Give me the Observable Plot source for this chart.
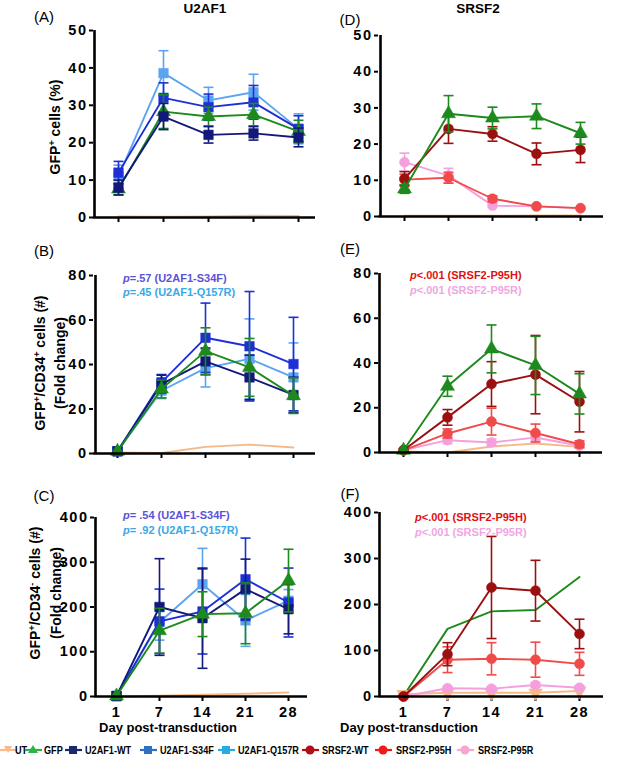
<!DOCTYPE html>
<html><head><meta charset="utf-8">
<script src="https://cdn.jsdelivr.net/npm/d3@7"></script>
<script src="https://cdn.jsdelivr.net/npm/@observablehq/plot@0.6"></script>
<style>
body{margin:0;background:#fff;}
#root{position:relative;width:630px;height:761px;overflow:hidden;font-family:"Liberation Sans",Arial,sans-serif;color:#000;}
.abs{position:absolute;white-space:nowrap;line-height:1;}
.c{transform:translate(-50%,-50%);}
.rot{transform:translate(-50%,-50%) rotate(-90deg);}
.b{font-weight:bold;}
.pl{font-size:15px;}
.ylab{font-size:14px;font-weight:bold;}
.pv{font-size:11px;font-weight:bold;}
.pv i{font-weight:bold;}
.leg{font-size:11px;font-weight:bold;transform:scaleX(0.83);transform-origin:0 50%;}
svg.panel{position:absolute;overflow:visible;}
#root svg.panel text{font-family:"Liberation Sans",Arial,sans-serif;font-weight:bold;font-size:14.5px;letter-spacing:1.5px;fill:#000;}
</style></head><body><div id="root"></div>
<script>
// ---------------- data ----------------
const days = [1, 7, 14, 21, 28];
const seriesNames  = ["UT", "GFP", "U2AF1-WT", "U2AF1-S34F", "U2AF1-Q157R", "SRSF2-WT", "SRSF2-P95H", "SRSF2-P95R"];
const seriesColors = ["#f5b988", "#1c8a1c", "#12197a", "#1f2fd6", "#5ca4f2", "#9a1010", "#f04a4a", "#f5a0de"];
const legendColors = ["#f9b98a", "#2db34a", "#1a2a6c", "#2f70c4", "#29abe2", "#b01015", "#f01a1a", "#f7a6cf"];

// (A) GFP+ cells (%) — U2AF1
const A_UT = [0.3, 0.2, 0.3, 0.5, 0.4];
const A_GFP = [7.6, 28.3, 27.0, 27.5, 23.0],  A_GFP_se = [1.5, 4.5, 2.5, 3.0, 3.0];
const A_WT = [8.0, 27.0, 22.1, 22.5, 21.4],   A_WT_se = [2.0, 3.5, 2.2, 1.8, 2.5];
const A_S34F = [12.0, 32.0, 29.5, 30.8, 23.7], A_S34F_se = [3.0, 4.0, 3.5, 4.5, 3.5];
const A_Q157R = [11.0, 38.6, 31.3, 33.5, 23.7], A_Q157R_se = [3.0, 6.0, 3.5, 4.8, 4.0];

// (D) GFP+ cells (%) — SRSF2
const D_UT = [0.2, 0.2, 0.2, 0.3, 0.3];
const D_GFP = [7.6, 28.4, 27.2, 27.7, 23.0],  D_GFP_se = [1.2, 5.0, 3.0, 3.4, 3.0];
const D_WT = [10.4, 24.2, 22.8, 17.3, 18.4],  D_WT_se = [2.0, 4.0, 2.0, 3.0, 3.5];
const D_P95H = [10.2, 10.7, 4.9, 2.8, 2.3],   D_P95H_se = [1.5, 1.5, 0.8, 0.5, 0.5];
const D_P95R = [15.0, 11.3, 3.0, 2.8, 2.3],   D_P95R_se = [2.5, 2.0, 0.5, 0.5, 0.5];

// (B) GFP+/CD34+ fold change — U2AF1
const B_UT = [0.5, 0.2, 3.0, 4.0, 2.7];
const B_GFP = [1, 29.0, 46.0, 38.7, 26.0],  B_GFP_se = [0.3, 4.0, 10.5, 13.0, 8.0];
const B_WT = [1, 31.2, 41.4, 34.2, 26.3],   B_WT_se = [0.3, 4.0, 6.0, 10.0, 8.0];
const B_S34F = [1, 32.0, 52.0, 48.2, 40.2], B_S34F_se = [0.3, 3.5, 15.6, 24.6, 21.0];
const B_Q157R = [1, 28.2, 38.4, 42.5, 34.2], B_Q157R_se = [0.3, 3.5, 8.5, 18.0, 15.5];

// (E) GFP+/CD34+ fold change — SRSF2
const E_UT = [0.5, 0.0, 2.7, 4.0, 2.5];
const E_GFP = [1, 29.6, 46.3, 38.9, 26.2], E_GFP_se = [0.3, 4.5, 10.7, 13.0, 9.0];
const E_WT = [1, 15.7, 30.6, 34.8, 22.7],  E_WT_se = [0.3, 3.5, 10.0, 17.5, 13.5];
const E_P95H = [1, 8.5, 13.8, 8.7, 3.7],   E_P95H_se = [0.3, 2.0, 6.0, 4.0, 1.5];
const E_P95R = [1, 5.5, 4.5, 6.7, 3.0],    E_P95R_se = [0.3, 1.5, 1.5, 1.5, 1.0];

// (C) GFP+/CD34- fold change — U2AF1
const C_UT = [0, 2, 4, 6, 9];
const C_GFP = [1, 147, 184, 186, 259],  C_GFP_se = [1, 50, 50, 68, 70];
const C_WT = [1, 200, 175, 240, 195],   C_WT_se = [1, 108, 112, 67, 55];
const C_S34F = [1, 168, 190, 262, 210], C_S34F_se = [1, 72, 95, 92, 77];
const C_Q157R = [1, 166, 251, 170, 214], C_Q157R_se = [1, 40, 80, 58, 25];

// (F) GFP+/CD34- fold change — SRSF2
const F_UT = [5, 8, 8, 8, 12];
const F_GFP = [1, 147, 185, 188, 260];
const F_WT = [0, 92, 237, 230, 136],  F_WT_se = [0, 25, 111, 66, 32];
const F_P95H = [0, 80, 82, 80, 71],   F_P95H_se = [0, 28, 35, 38, 25];
const F_P95R = [0, 18, 17, 25, 19],   F_P95R_se = [0, 4, 4, 5, 4];

const yTicksPct = [0, 10, 20, 30, 40, 50];
const yTicks80 = [0, 20, 40, 60, 80];
const yTicks400 = [0, 100, 200, 300, 400];

// ---------------- helpers ----------------
const colorOf = n => seriesColors[seriesNames.indexOf(n)];
const capSymbol = {draw(ctx, size){const w = Math.sqrt(size/Math.PI); ctx.moveTo(-w,0); ctx.lineTo(w,0);}};
const downTri = {draw(ctx, size){const s = Math.sqrt(size/(Math.sqrt(3)*3)); ctx.moveTo(0,2*s); ctx.lineTo(-Math.sqrt(3)*s,-s); ctx.lineTo(Math.sqrt(3)*s,-s); ctx.closePath();}};
function symbolOf(n){
  if (n === "UT") return downTri;
  if (n === "GFP") return "triangle";
  if (n.startsWith("U2AF1")) return "square";
  return "circle";
}
function radiusOf(n){
  if (n === "UT") return 5;
  if (n === "GFP") return 5.2;
  if (n.startsWith("U2AF1")) return 5.4;
  return 5;
}
function seriesMarks(name, mean, se, markers){
  const color = colorOf(name);
  const rows = days.map((d,i)=>({day:d, v:mean[i], lo: se ? Math.max(0, mean[i]-se[i]) : null, hi: se ? mean[i]+se[i] : null}));
  const m = [Plot.line(rows, {x:"day", y:"v", stroke:color, strokeWidth:1.9})];
  if (se) {
    const eb = rows.filter((r,i)=>se[i] > 0.6);
    m.push(Plot.ruleX(eb, {x:"day", y1:"lo", y2:"hi", stroke:color, strokeWidth:1.6}));
    const caps = eb.flatMap(r=>[{day:r.day, y:r.lo},{day:r.day, y:r.hi}]);
    m.push(Plot.dot(caps, {x:"day", y:"y", symbol:capSymbol, r:5, stroke:color, strokeWidth:1.6, fill:"none"}));
  }
  if (markers) m.push(Plot.dot(rows, {x:"day", y:"v", symbol:symbolOf(name), r:radiusOf(name), fill:color, stroke:color, strokeWidth:0.5}));
  return m;
}

const root = document.getElementById("root");
function panel(cfg, yTicks, ymax, series, showX){
  const marginLeft = cfg.axisX - cfg.left;
  const marginRight = cfg.left + cfg.w - cfg.right;
  const marginTop = cfg.yTop - cfg.top;
  const marginBottom = cfg.top + cfg.h - cfg.yZero;
  const insetLeft = cfg.x1 - cfg.axisX, insetRight = cfg.right - cfg.xN;
  const marks = [
    Plot.axisY({ticks:yTicks, tickSize:4, tickPadding:2, label:null, strokeWidth:2, fontWeight:"bold", fontSize:14.5}),
    Plot.axisX({ticks:days, tickSize:5, tickPadding:5, label:null, strokeWidth:2, fontWeight:"bold", fontSize:14.5, tickFormat: showX ? (d=>String(d)) : (()=>"")}),
  ];
  for (const s of series) marks.push(...seriesMarks(s.name, s.mean, s.se, s.markers));
  marks.push(Plot.ruleY([0], {stroke:"black", strokeWidth:2.6}));
  marks.push(Plot.ruleX([days[0]], {y1:0, y2:ymax, dx:-insetLeft, stroke:"black", strokeWidth:2.6}));
  const svg = Plot.plot({
    width: cfg.w, height: cfg.h, marginLeft, marginRight, marginTop, marginBottom,
    x: {type:"point", domain: days, padding:0, insetLeft, insetRight},
    y: {domain:[0, ymax]},
    style: {fontFamily:'"Liberation Sans", Arial, sans-serif', color:"black", background:"transparent", overflow:"visible"},
    marks
  });
  svg.classList.add("panel");
  svg.style.left = cfg.left + "px"; svg.style.top = cfg.top + "px";
  root.appendChild(svg);
}

const cfgA = {left:0, top:0, w:320, h:235, axisX:93, right:315, yTop:30, yZero:217, x1:117, xN:298};
const cfgB = {left:0, top:240, w:320, h:225, axisX:93, right:315, yTop:275, yZero:453, x1:115, xN:294};
const cfgC = {left:0, top:480, w:320, h:235, axisX:94, right:307, yTop:517, yZero:696, x1:115, xN:288};
const cfgD = {left:315, top:0, w:315, h:235, axisX:378, right:603, yTop:35, yZero:216, x1:402, xN:581};
const cfgE = {left:315, top:240, w:315, h:225, axisX:378, right:602, yTop:273, yZero:452, x1:402, xN:579};
const cfgF = {left:315, top:480, w:315, h:235, axisX:378, right:603, yTop:512, yZero:696, x1:402, xN:579};

const S = (name, mean, se, markers=true) => ({name, mean, se, markers});

panel(cfgA, yTicksPct, 50, [S("UT",A_UT,null,false), S("U2AF1-Q157R",A_Q157R,A_Q157R_se), S("U2AF1-S34F",A_S34F,A_S34F_se), S("GFP",A_GFP,A_GFP_se), S("U2AF1-WT",A_WT,A_WT_se)], false);
panel(cfgB, yTicks80, 80, [S("UT",B_UT,null,false), S("U2AF1-Q157R",B_Q157R,B_Q157R_se), S("U2AF1-S34F",B_S34F,B_S34F_se), S("U2AF1-WT",B_WT,B_WT_se), S("GFP",B_GFP,B_GFP_se)], false);
panel(cfgC, yTicks400, 400, [S("UT",C_UT,null,false), S("U2AF1-Q157R",C_Q157R,C_Q157R_se), S("U2AF1-S34F",C_S34F,C_S34F_se), S("U2AF1-WT",C_WT,C_WT_se), S("GFP",C_GFP,C_GFP_se)], true);
panel(cfgD, yTicksPct, 50, [S("UT",D_UT,null,false), S("SRSF2-P95R",D_P95R,D_P95R_se), S("SRSF2-P95H",D_P95H,D_P95H_se), S("SRSF2-WT",D_WT,D_WT_se), S("GFP",D_GFP,D_GFP_se)], false);
panel(cfgE, yTicks80, 80, [S("UT",E_UT,null,false), S("SRSF2-P95R",E_P95R,E_P95R_se), S("SRSF2-P95H",E_P95H,E_P95H_se), S("SRSF2-WT",E_WT,E_WT_se), S("GFP",E_GFP,E_GFP_se)], false);
panel(cfgF, yTicks400, 400, [S("GFP",F_GFP,null,false), S("UT",F_UT,null,true), S("SRSF2-P95R",F_P95R,F_P95R_se), S("SRSF2-P95H",F_P95H,F_P95H_se), S("SRSF2-WT",F_WT,F_WT_se)], true);

// ---------------- text ----------------
function txt(html, x, y, cls, extra){
  const d = document.createElement("div");
  d.className = "abs " + cls; d.innerHTML = html;
  d.style.left = x + "px"; d.style.top = y + "px";
  if (extra) Object.assign(d.style, extra);
  root.appendChild(d); return d;
}
txt("U2AF1", 205, 9, "c b", {fontSize:"13.5px"});
txt("SRSF2", 478, 9, "c b", {fontSize:"13.5px"});
txt("(A)", 44, 16, "c pl"); txt("(D)", 350, 19, "c pl");
txt("(B)", 44, 250, "c pl"); txt("(E)", 350, 248, "c pl");
txt("(C)", 44, 495, "c pl"); txt("(F)", 350, 493, "c pl");

txt("GFP<sup style='font-size:9px'>+</sup> cells (%)", 55, 127, "rot ylab");
txt("GFP<sup style='font-size:9px'>+</sup>/CD34<sup style='font-size:9px'>+</sup> cells (#)", 40, 363, "rot ylab");
txt("(Fold change)", 60, 363, "rot ylab");
txt("GFP<sup style='font-size:9px'>+</sup>/CD34<sup style='font-size:9px'>-</sup> cells (#)", 35, 593, "rot ylab");
txt("(Fold change)", 56, 593, "rot ylab");

const pS34F = "#5b52d8", pQ157R = "#38a8e8", pP95H = "#e01010", pP95R = "#f0a6e2";
txt("<i>p</i>=.57 (U2AF1-S34F)", 123, 273, "pv", {color:pS34F});
txt("<i>p</i>=.45 (U2AF1-Q157R)", 123, 287, "pv", {color:pQ157R});
txt("<i>p</i>= .54 (U2AF1-S34F)", 123, 510, "pv", {color:pS34F});
txt("<i>p</i>= .92 (U2AF1-Q157R)", 123, 525, "pv", {color:pQ157R});
txt("<i>p</i>&lt;.001 (SRSF2-P95H)", 410, 270, "pv", {color:pP95H});
txt("<i>p</i>&lt;.001 (SRSF2-P95R)", 410, 285, "pv", {color:pP95R});
txt("<i>p</i>&lt;.001 (SRSF2-P95H)", 415, 512, "pv", {color:pP95H});
txt("<i>p</i>&lt;.001 (SRSF2-P95R)", 415, 527, "pv", {color:pP95R});

txt("Day post-transduction", 168, 727, "c b", {fontSize:"13px"});
txt("Day post-transduction", 409, 727, "c b", {fontSize:"13px"});

// legend
const legendIconX = [0, 25, 65, 140, 218, 302, 375, 457];
const legendTextX = [15, 44, 85, 160, 238, 322, 396, 478];
function iconSvg(i){
  const n = seriesNames[i], c = legendColors[i];
  let shape;
  if (n === "UT") shape = `<path d="M4,2 L12,2 L8,9 Z" fill="${c}"/>`;
  else if (n === "GFP") shape = `<path d="M8,1 L13,9 L3,9 Z" fill="${c}"/>`;
  else if (n.startsWith("U2AF1")) shape = `<rect x="4" y="2" width="8" height="8" fill="${c}"/>`;
  else shape = `<circle cx="8" cy="6" r="4.5" fill="${c}"/>`;
  return `<svg width="17" height="12" style="display:block"><line x1="0" y1="6" x2="17" y2="6" stroke="${c}" stroke-width="2.2"/>${shape}</svg>`;
}
seriesNames.forEach((n,i)=>{
  txt(iconSvg(i), legendIconX[i], 744, "");
  txt(n, legendTextX[i], 745, "leg");
});
</script></body></html>
